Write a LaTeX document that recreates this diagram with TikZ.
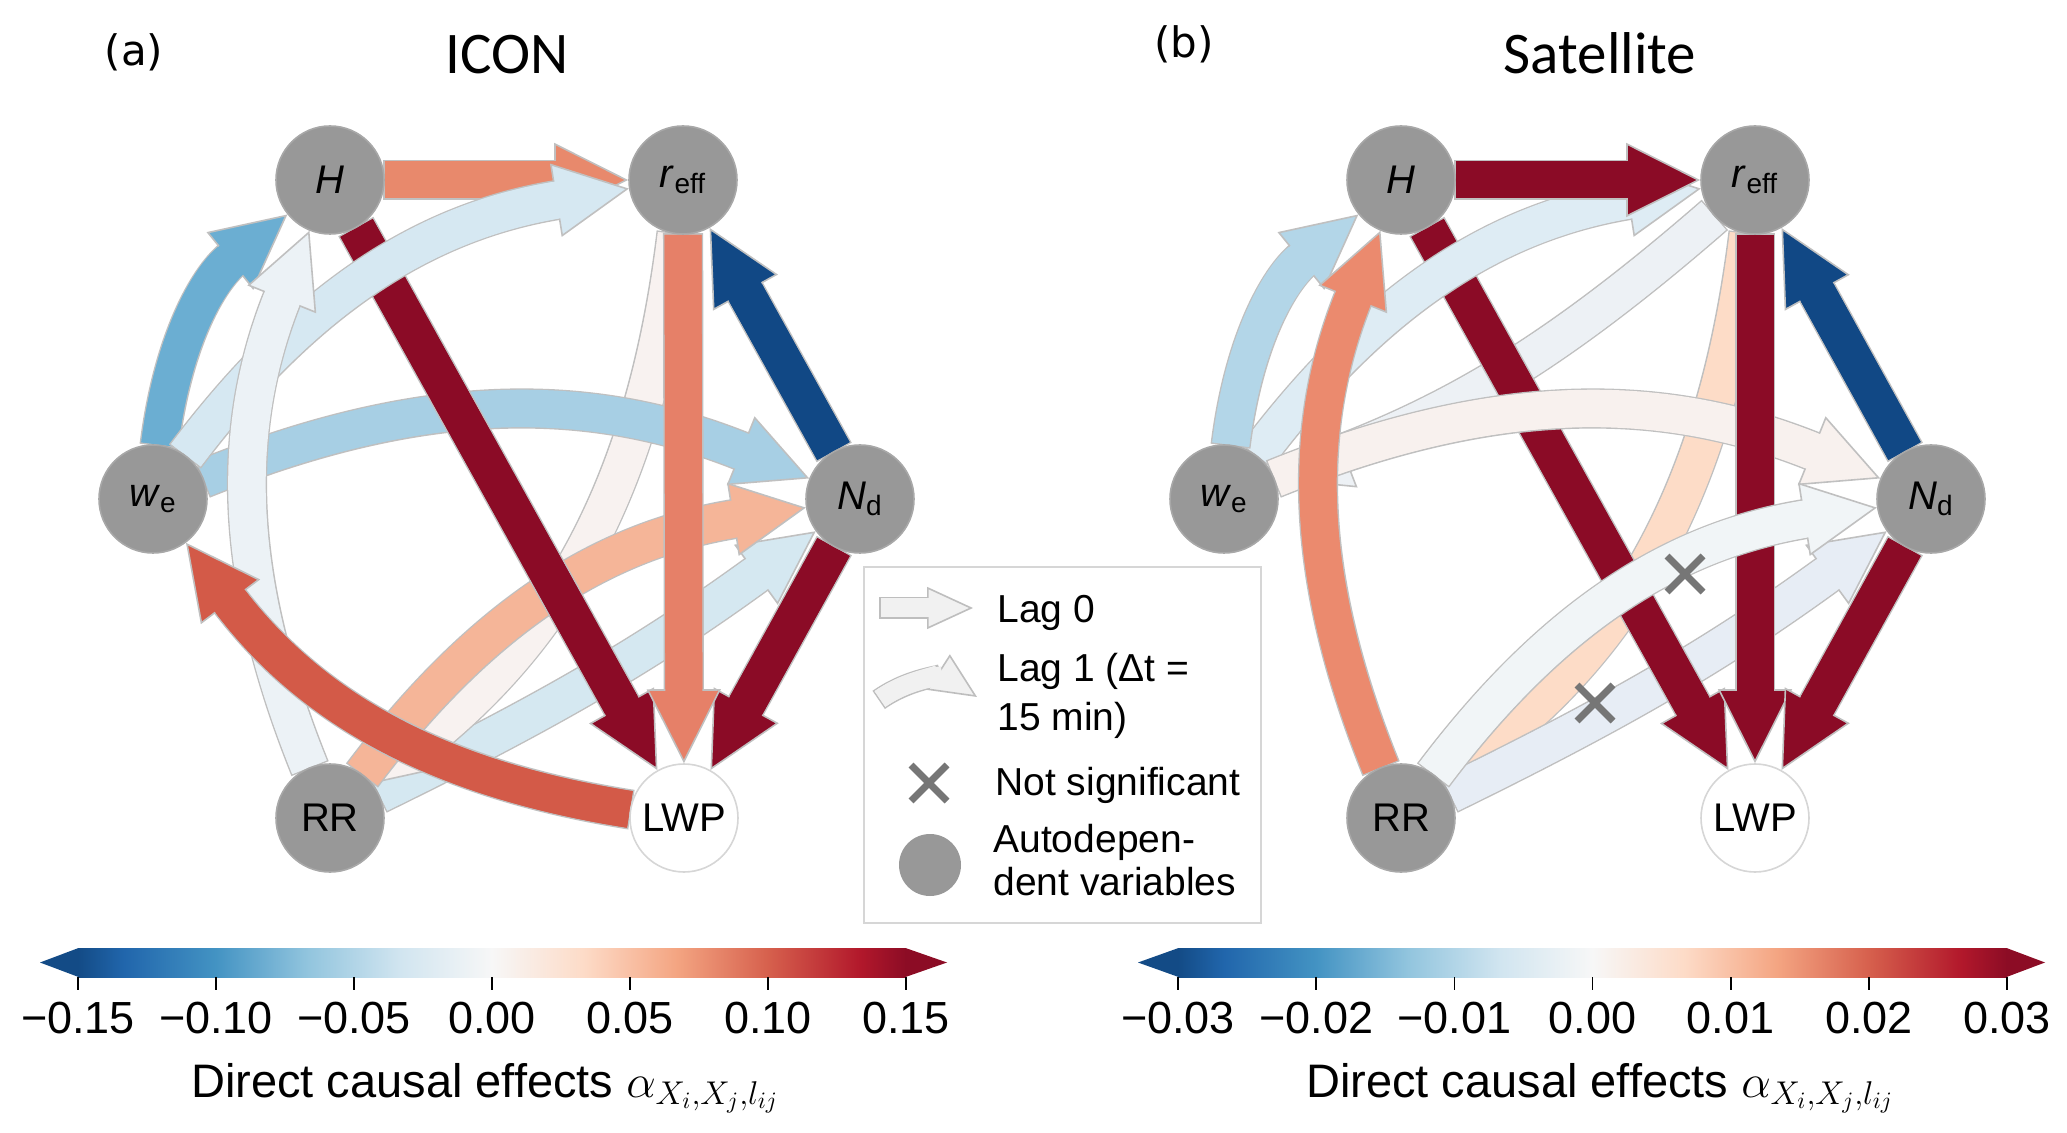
\RequirePackage{fix-cm}
\documentclass[tikz,border=0pt]{standalone}
\usepackage{fontspec}
\setmainfont{Liberation Sans}
\newfontfamily\titlefont{Carlito}
\newfontfamily\panelfont{DejaVu Sans}
\usetikzlibrary{arrows.meta}
\pgfdeclarelayer{bg}
\pgfsetlayers{bg,main}

\definecolor{dred}{RGB}{139,11,38}
\definecolor{dblue}{RGB}{17,72,133}
\definecolor{abord}{RGB}{192,192,192}
\definecolor{nodegray}{RGB}{152,152,152}
\definecolor{nodebord}{RGB}{168,168,168}
\definecolor{lwpbord}{RGB}{214,214,214}
\definecolor{legbord}{RGB}{214,214,214}
\definecolor{xgray}{RGB}{118,118,118}
\definecolor{lfill}{RGB}{241,241,241}
\definecolor{lbord}{RGB}{190,190,190}
% panel a
\definecolor{aRRNdB}{RGB}{213,232,241}
\definecolor{aReffRR}{RGB}{248,242,240}
\definecolor{aRRNdS}{RGB}{245,181,152}
\definecolor{aweNd}{RGB}{167,207,228}
\definecolor{aweH}{RGB}{107,174,210}
\definecolor{aHreff}{RGB}{232,137,108}
\definecolor{awereff}{RGB}{214,232,242}
\definecolor{aRRH}{RGB}{236,242,246}
\definecolor{areffLWP}{RGB}{230,128,104}
\definecolor{aLWPwe}{RGB}{211,90,72}
% panel b
\definecolor{breffRR}{RGB}{253,220,199}
\definecolor{bRRNdL}{RGB}{231,237,245}
\definecolor{breffwe}{RGB}{237,241,245}
\definecolor{bwereff}{RGB}{222,236,244}
\definecolor{bweNd}{RGB}{248,241,238}
\definecolor{bweH}{RGB}{179,214,232}
\definecolor{bRRNdP}{RGB}{241,245,247}
\definecolor{bRRH}{RGB}{235,138,110}
% colour bar
\definecolor{cbA}{RGB}{19,75,134}
\definecolor{cbB}{RGB}{33,102,172}
\definecolor{cbC}{RGB}{67,147,195}
\definecolor{cbD}{RGB}{146,197,222}
\definecolor{cbE}{RGB}{209,229,240}
\definecolor{cbF}{RGB}{247,247,247}
\definecolor{cbG}{RGB}{253,219,199}
\definecolor{cbH}{RGB}{244,165,130}
\definecolor{cbI}{RGB}{214,96,77}
\definecolor{cbJ}{RGB}{178,24,43}
\definecolor{cbK}{RGB}{140,12,37}

\pgfdeclarehorizontalshading{rdbu}{100bp}{color(0bp)=(cbA); color(25bp)=(cbA); color(27.78bp)=(cbB); color(33.33bp)=(cbC); color(38.89bp)=(cbD); color(44.44bp)=(cbE); color(50bp)=(cbF); color(55.56bp)=(cbG); color(61.11bp)=(cbH); color(66.67bp)=(cbI); color(72.22bp)=(cbJ); color(75bp)=(cbK); color(100bp)=(cbK)}

\tikzset{
  var/.style={circle, minimum size=54pt, inner sep=0pt, fill=nodegray, draw=nodebord, line width=0.8pt, font=\fontsize{20}{24}\selectfont},
  varw/.style={var, fill=white, draw=lwpbord},
  ttl/.style={font=\titlefont\fontsize{29.5}{34}\selectfont, anchor=base, inner sep=0pt},
  plabel/.style={font=\panelfont\fontsize{21}{25}\selectfont, anchor=base, inner sep=0pt},
  legtxt/.style={font=\fontsize{19.5}{23}\selectfont, anchor=base west, inner sep=0pt},
  ticklbl/.style={font=\fontsize{22.5}{26}\selectfont, anchor=base, inner sep=0pt},
  cblbl/.style={font=\fontsize{23.5}{28}\selectfont, anchor=base, inner sep=0pt},
  xmark/.style={draw=xgray, line width=3.5pt},
  cbtick/.style={line width=0.8pt, draw=black},
  legbox/.style={draw=legbord, line width=1pt, fill=white, inner sep=0pt, minimum width=198.5pt, minimum height=178pt},
}

% #1 colour, #2 start node, #3 path operation, #4 end node
\newcommand\cfxarrow[4]{%
  \draw[line width=20.1pt, draw=abord, shorten >=35pt, shorten <=-0.8pt] (#2) #3 (#4);
  \draw[line width=18.5pt, draw=#1, -{Triangle[length=37pt,width=37pt,line width=0.8pt,fill=#1,color=abord]}] (#2) #3 (#4);
  \draw[line width=18.5pt, draw=#1, shorten >=33pt] (#2) #3 (#4);
}
\newcommand\legarrow[3]{%
  \draw[line width=11pt, draw=lbord, shorten >=21pt, shorten <=-0.8pt] (#1) #2 (#3);
  \draw[line width=9.5pt, draw=lfill, -{Triangle[length=23pt,width=21pt,line width=0.8pt,fill=lfill,color=lbord]}] (#1) #2 (#3);
  \draw[line width=9.5pt, draw=lfill, shorten >=20pt] (#1) #2 (#3);
}

\begin{document}
\begin{tikzpicture}[x=0.5pt,y=0.5pt]
\useasboundingbox (0,0) rectangle (2067,-1133);

% titles
\node[plabel] (pa) at (134,-66) {(a)};
\node[ttl] (ta) at (507,-74) {ICON};
\node[plabel] (pb) at (1184,-58) {(b)};
\node[ttl] (tb) at (1600,-74) {Satellite};

% nodes panel a
\node[var] (aH) at (330,-180) {\textit{H}};
\node[var] (areff) at (683,-180) {\textit{r}\textsubscript{eff}};
\node[var] (awe) at (153,-499) {\textit{w}\textsubscript{e}};
\node[var] (aNd) at (860,-499) {\textit{N}\textsubscript{d}};
\node[var] (aRR) at (330,-818) {RR};
\node[varw] (aLWP) at (684,-818) {LWP};

% nodes panel b
\node[var] (bH) at (1401,-180) {\textit{H}};
\node[var] (breff) at (1755,-180) {\textit{r}\textsubscript{eff}};
\node[var] (bwe) at (1224,-499) {\textit{w}\textsubscript{e}};
\node[var] (bNd) at (1931,-499) {\textit{N}\textsubscript{d}};
\node[var] (bRR) at (1401,-818) {RR};
\node[varw] (bLWP) at (1755,-818) {LWP};

\begin{pgfonlayer}{bg}
% panel a links
\cfxarrow{aRRNdB}{aRR}{to[bend right=5]}{aNd}
\cfxarrow{aReffRR}{areff}{to[bend left=22]}{aRR}
\cfxarrow{aRRNdS}{aRR}{to[bend left=22]}{aNd}
\cfxarrow{aweNd}{awe}{to[bend left=22]}{aNd}
\cfxarrow{dred}{aH}{--}{aLWP}
\cfxarrow{dred}{aNd}{--}{aLWP}
\cfxarrow{dblue}{aNd}{--}{areff}
\cfxarrow{aweH}{awe}{to[bend left=22]}{aH}
\cfxarrow{aHreff}{aH}{--}{areff}
\cfxarrow{awereff}{awe}{to[bend left=22]}{areff}
\cfxarrow{aRRH}{aRR}{to[bend left=22]}{aH}
\cfxarrow{areffLWP}{areff}{--}{aLWP}
\cfxarrow{aLWPwe}{aLWP}{to[bend left=22]}{awe}

% panel b links
\cfxarrow{breffRR}{breff}{to[bend left=22]}{bRR}
\cfxarrow{bRRNdL}{bRR}{to[bend right=5]}{bNd}
\cfxarrow{breffwe}{breff}{to[bend left=10]}{bwe}
\cfxarrow{dred}{bH}{--}{bLWP}
\cfxarrow{bwereff}{bwe}{to[bend left=22]}{breff}
\cfxarrow{bweNd}{bwe}{to[bend left=22]}{bNd}
\cfxarrow{dred}{breff}{--}{bLWP}
\cfxarrow{dred}{bNd}{--}{bLWP}
\cfxarrow{dblue}{bNd}{--}{breff}
\cfxarrow{dred}{bH}{--}{breff}
\cfxarrow{bweH}{bwe}{to[bend left=22]}{bH}
\cfxarrow{bRRNdP}{bRR}{to[bend left=22]}{bNd}
\cfxarrow{bRRH}{bRR}{to[bend left=22]}{bH}
\end{pgfonlayer}

% not-significant marks
\coordinate (xs1) at (1685,-574);
\coordinate (xs2) at (1595,-703);
\draw[xmark, shift={(xs1)}] (-18,-18) -- (18,18) (-18,18) -- (18,-18);
\draw[xmark, shift={(xs2)}] (-18,-18) -- (18,18) (-18,18) -- (18,-18);

% legend
\node[legbox] (legend) at (1062.5,-745) {};
\coordinate (l0s) at (881,-608);
\coordinate (l0e) at (973,-608);
\legarrow{l0s}{--}{l0e}
\coordinate (l1s) at (880,-699);
\coordinate (l1e) at (977,-697);
\legarrow{l1s}{to[bend left=34]}{l1e}
\node[legtxt] (tl0) at (997,-623) {Lag 0};
\node[legtxt] (tl1a) at (997,-682) {Lag 1 (Δt =};
\node[legtxt] (tl1b) at (997,-730) {15 min)};
\coordinate (lx) at (929,-783);
\draw[xmark, shift={(lx)}] (-18,-18) -- (18,18) (-18,18) -- (18,-18);
\node[legtxt] (tns) at (995,-795) {Not significant};
\node[circle, fill=nodegray, minimum size=31pt, inner sep=0pt] (lcirc) at (930,-865) {};
\node[legtxt] (tad1) at (993,-852) {Autodepen-};
\node[legtxt] (tad2) at (993,-895) {dent variables};

% colour bar a
\shade[shading=rdbu] (78,-948) rectangle (906,-977);
\fill[cbA] (78.5,-948) -- (40,-962.5) -- (78.5,-977) -- cycle;
\fill[cbK] (905.5,-948) -- (947,-962.5) -- (905.5,-977) -- cycle;
\foreach \xx/\lab in {78/−0.15, 216/−0.10, 354/−0.05, 492/0.00, 630/0.05, 768/0.10, 906/0.15}{
  \draw[cbtick] (\xx,-977) -- (\xx,-990);
  \node[ticklbl] at (\xx,-1033) {\lab};
}
\node[cblbl] (cla) at (485,-1097) {Direct causal effects $\alpha_{X_i,X_j,l_{ij}}$};

% colour bar b
\shade[shading=rdbu] (1178,-948) rectangle (2007,-977);
\fill[cbA] (1178.5,-948) -- (1138,-962.5) -- (1178.5,-977) -- cycle;
\fill[cbK] (2006.5,-948) -- (2045,-962.5) -- (2006.5,-977) -- cycle;
\foreach \xx/\lab in {1178/−0.03, 1316.2/−0.02, 1454.3/−0.01, 1592.5/0.00, 1730.7/0.01, 1868.8/0.02, 2007/0.03}{
  \draw[cbtick] (\xx,-977) -- (\xx,-990);
  \node[ticklbl] at (\xx,-1033) {\lab};
}
\node[cblbl] (clb) at (1600,-1097) {Direct causal effects $\alpha_{X_i,X_j,l_{ij}}$};
\end{tikzpicture}
\end{document}
